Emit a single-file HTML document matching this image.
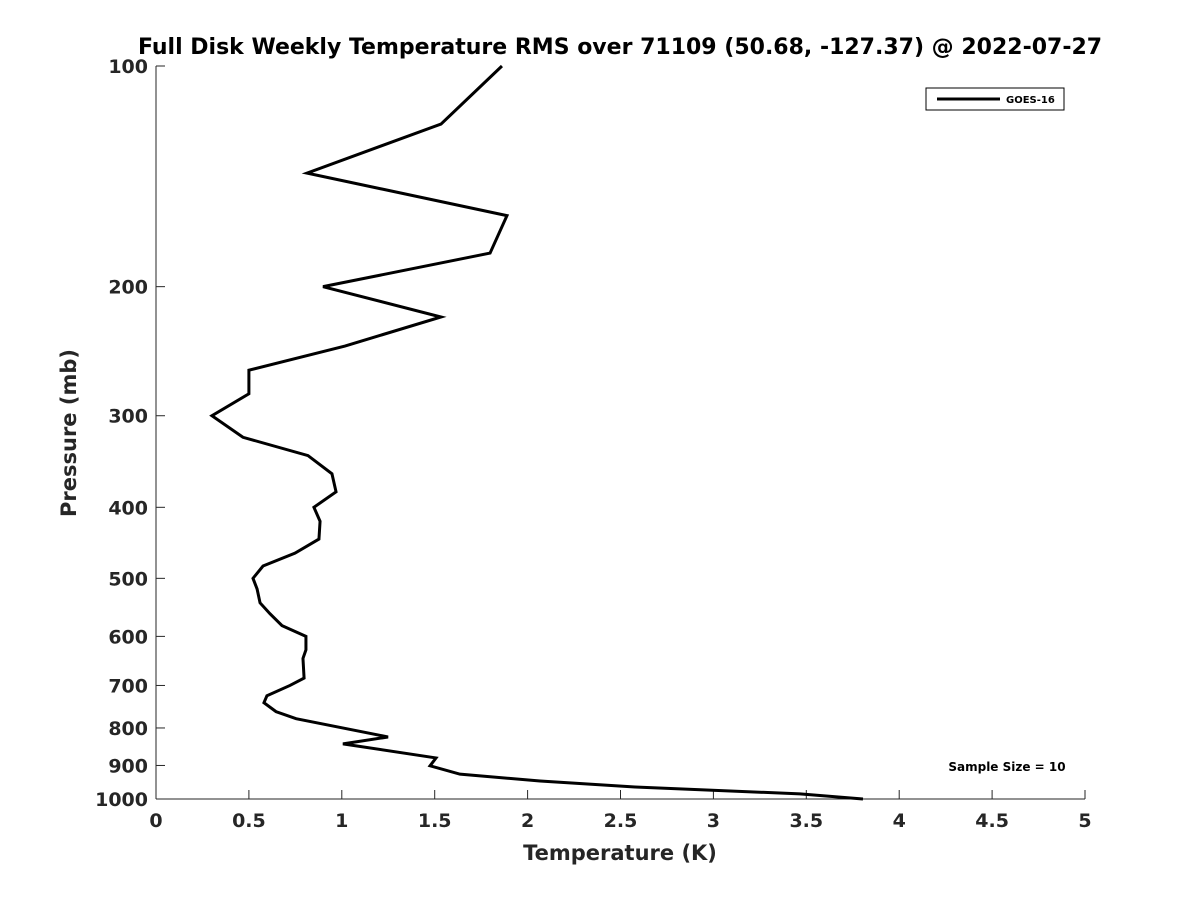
<!DOCTYPE html>
<html><head><meta charset="utf-8"><style>
body{margin:0;background:#fff;font-family:"Liberation Sans","DejaVu Sans",sans-serif}
text{font-family:"DejaVu Sans","Liberation Sans",sans-serif;font-weight:bold}
</style></head><body>
<svg id="chart" width="1200" height="900" xmlns="http://www.w3.org/2000/svg">
<rect width="1200" height="900" fill="#fff"/>
<text x="620" y="54" text-anchor="middle" font-size="22" fill="#000">Full Disk Weekly Temperature RMS over 71109 (50.68, -127.37) @ 2022-07-27</text>
<g id="axes"></g>
<text x="620" y="860" text-anchor="middle" font-size="21" fill="#262626">Temperature (K)</text>
<text transform="translate(76,433) rotate(-90)" text-anchor="middle" font-size="21" fill="#262626">Pressure (mb)</text>
<g>
<rect x="926" y="88" width="138" height="22" fill="#fff" stroke="#000" stroke-width="1"/>
<line x1="937" y1="99" x2="1000" y2="99" stroke="#000" stroke-width="3"/>
<text x="1006" y="103" font-size="10" fill="#000">GOES-16</text>
</g>
<text x="1007" y="771" text-anchor="middle" font-size="12" fill="#000">Sample Size = 10</text>
</svg>
<script>
const temps=[1.862,1.534,0.813,1.889,1.798,0.899,1.534,1.017,0.5,0.5,0.301,0.468,0.818,0.947,0.969,0.85,0.883,0.877,0.748,0.576,0.522,0.544,0.56,0.614,0.678,0.807,0.807,0.791,0.797,0.721,0.597,0.581,0.646,0.754,1.249,1.006,1.507,1.475,1.636,2.067,2.578,3.466,3.805];
const pressures=[100,120,140,160,180,200,220,241,260,280,300,321,340,360,381,400,418,442,462,481,500,517,540,559,580,600,626,643,684,700,723,739,760,777,823,841,879,901,925,945,963,984,1000];
const xTicks=[0,0.5,1,1.5,2,2.5,3,3.5,4,4.5,5];
const xTickLabels=["0","0.5","1","1.5","2","2.5","3","3.5","4","4.5","5"];
const yTicks=[100,200,300,400,500,600,700,800,900,1000];
const yTickLabels=["100","200","300","400","500","600","700","800","900","1000"];
const L=156,R=1085,T=66,B=799;
const xs=v=>L+(v-0)/(5-0)*(R-L);
const ys=p=>T+(Math.log10(p)-2)/(3-2)*(B-T);
const NS="http://www.w3.org/2000/svg";
const g=document.getElementById('axes');
function mk(t,a){const e=document.createElementNS(NS,t);for(const k in a)e.setAttribute(k,a[k]);g.appendChild(e);return e;}
let e=mk('line',{x1:L,y1:B,x2:R,y2:B,stroke:'#262626','stroke-width':1});


e=mk('line',{x1:L,y1:T,x2:L,y2:B,stroke:'#262626','stroke-width':1});


xTicks.forEach((v,i)=>{
 mk('line',{x1:xs(v),y1:B,x2:xs(v),y2:B-9,stroke:'#262626'});
 const t=mk('text',{x:xs(v),y:B+28,'text-anchor':'middle','font-size':19,fill:'#262626'});
 t.textContent=xTickLabels[i];
 
 
});
yTicks.forEach((p,i)=>{
 mk('line',{x1:L,y1:ys(p),x2:L+9,y2:ys(p),stroke:'#262626'});
 const t=mk('text',{x:L-8,y:ys(p)+7,'text-anchor':'end','font-size':19,fill:'#262626'});
 t.textContent=yTickLabels[i];
 
 
});
const pts=temps.map((v,i)=>xs(v)+','+ys(pressures[i])).join(' ');
e=mk('polyline',{points:pts,fill:'none',stroke:'#000','stroke-width':3,'stroke-linejoin':'miter'});


</script>
</body></html>
